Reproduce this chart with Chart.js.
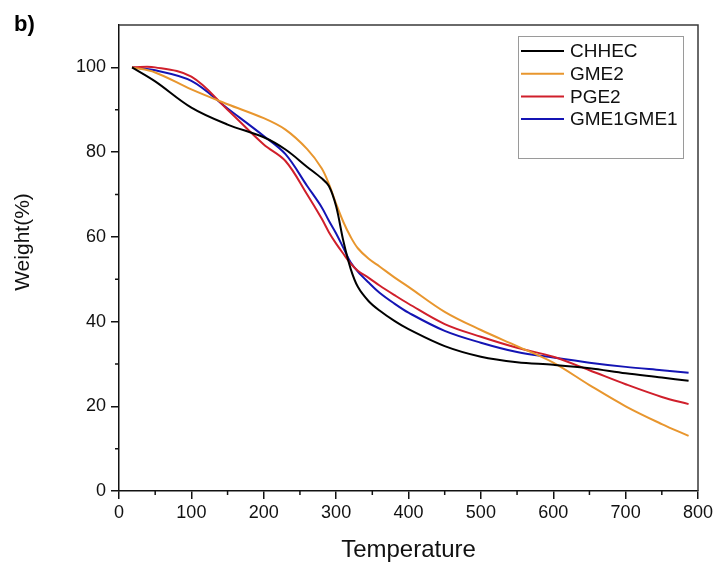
<!DOCTYPE html>
<html>
<head>
<meta charset="utf-8">
<script src="https://cdn.jsdelivr.net/npm/chart.js@4"></script>
<style>
  html, body { margin: 0; padding: 0; background: #fff; }
  #wrap { width: 718px; height: 567px; }
</style>
</head>
<body>
<div id="wrap"><canvas id="tga-chart"></canvas></div>
<script>
// Temperature points
const temperature = [18, 50, 100, 150, 200, 230, 260, 280, 290, 300, 310, 320, 330, 345, 360, 380, 400, 450, 500, 550, 600, 650, 700, 750, 787];

// Weight (%) for each sample
const chhec    = [100, 96.7, 90.5, 86.5, 83.5, 80.6, 76.5, 73.8, 72.0, 67.2, 59.0, 52.5, 48.2, 44.8, 42.6, 40.2, 38.2, 34.2, 31.7, 30.4, 29.8, 29.0, 27.8, 26.8, 26.0];
const gme2     = [100, 98.8, 94.8, 91.3, 88.0, 85.3, 80.7, 76.2, 72.5, 67.8, 63.5, 60.0, 57.3, 54.8, 53.0, 50.5, 48.2, 42.3, 38.0, 34.2, 30.3, 25.0, 20.0, 15.8, 13.0];
const pge2     = [100, 100, 97.8, 90.0, 81.8, 77.9, 70.0, 64.3, 61.1, 58.4, 56.0, 53.7, 52.0, 50.3, 48.5, 46.3, 44.2, 39.4, 36.4, 33.8, 31.7, 28.5, 25.2, 22.2, 20.5];
const gme1gme1 = [100, 99.3, 96.8, 90.3, 83.8, 79.5, 72.0, 67.0, 63.8, 60.8, 57.4, 54.0, 51.8, 49.2, 46.8, 44.3, 42.1, 37.8, 35.0, 32.8, 31.5, 30.3, 29.3, 28.5, 27.9];

const seriesNames = ['CHHEC', 'GME2', 'PGE2', 'GME1GME1'];
const seriesColors = ['#000000', '#e8962e', '#d01f2b', '#1414b4'];

const xTicks = [0, 100, 200, 300, 400, 500, 600, 700, 800];
const yTicks = [0, 20, 40, 60, 80, 100];

const FONT = '"Liberation Sans", Arial, sans-serif';

function toPoints(values) {
    return temperature.map((t, i) => ({ x: t, y: values[i] }));
}

// minor ticks, frame, legend box, y title and panel label
const decorPlugin = {
    id: 'decor',
    afterDraw(chart) {
        const c = chart.ctx;
        const a = chart.chartArea;
        const xs = chart.scales.x;
        const ys = chart.scales.y;

        c.save();
        // top and right frame
        c.strokeStyle = '#3a3a3a';
        c.lineWidth = 1.5;
        c.beginPath();
        c.moveTo(a.left, a.top);
        c.lineTo(a.right, a.top);
        c.lineTo(a.right, a.bottom);
        c.stroke();

        // minor ticks
        c.strokeStyle = '#111';
        c.lineWidth = 1.5;
        c.beginPath();
        for (let v = 50; v < 800; v += 100) {
            const px = xs.getPixelForValue(v);
            c.moveTo(px, a.bottom);
            c.lineTo(px, a.bottom + 4);
        }
        for (let v = 10; v < 110; v += 20) {
            const py = ys.getPixelForValue(v);
            c.moveTo(a.left, py);
            c.lineTo(a.left - 4, py);
        }
        c.stroke();

        // legend
        const lx = 518, ly = 36, lw = 165, lh = 122;
        c.strokeStyle = '#9a9a9a';
        c.lineWidth = 1;
        c.strokeRect(lx + 0.5, ly + 0.5, lw, lh);
        c.font = '19px ' + FONT;
        c.textBaseline = 'middle';
        chart.data.datasets.forEach((ds, i) => {
            const y = ly + 15 + i * 22.7;
            c.strokeStyle = ds.borderColor;
            c.lineWidth = 2;
            c.beginPath();
            c.moveTo(lx + 3, y);
            c.lineTo(lx + 46, y);
            c.stroke();
            c.fillStyle = '#111';
            c.fillText(ds.label, lx + 52, y + 1);
        });

        // y axis title
        c.save();
        c.translate(23, 242);
        c.rotate(-Math.PI / 2);
        c.fillStyle = '#111';
        c.font = '21px ' + FONT;
        c.textAlign = 'center';
        c.textBaseline = 'middle';
        c.fillText('Weight(%)', 0, 0);
        c.restore();

        // panel label
        c.fillStyle = '#000';
        c.font = 'bold 22px ' + FONT;
        c.textBaseline = 'alphabetic';
        c.fillText('b)', 14, 31);
        c.restore();
    }
};

const ctx = document.getElementById('tga-chart').getContext('2d');
new Chart(ctx, {
    type: 'line',
    data: {
        datasets: seriesNames.map((name, i) => ({
            label: name,
            data: toPoints([chhec, gme2, pge2, gme1gme1][i]),
            borderColor: seriesColors[i],
            borderWidth: 2,
            pointRadius: 0,
            fill: false,
            tension: 0.35
        }))
    },
    options: {
        responsive: true,
        maintainAspectRatio: false,
        animation: false,
        layout: { padding: { top: 25, right: 20, left: 0, bottom: 0 } },
        plugins: {
            legend: { display: false },
            tooltip: { enabled: false }
        },
        scales: {
            x: {
                type: 'linear',
                min: 0,
                max: 800,
                afterBuildTicks: s => { s.ticks = xTicks.map(v => ({ value: v })); },
                afterFit: s => { s.height = 76; },
                grid: { drawOnChartArea: false, drawTicks: true, tickLength: 8, color: '#111', lineWidth: 1.5 },
                border: { display: true, color: '#111', width: 1.5 },
                ticks: { color: '#111', font: { family: FONT, size: 18 }, padding: 3, maxRotation: 0 },
                title: { display: true, text: 'Temperature', color: '#111', font: { family: FONT, size: 24 }, padding: { top: 0, bottom: 2 } }
            },
            y: {
                min: 0,
                max: 110,
                afterBuildTicks: s => { s.ticks = yTicks.map(v => ({ value: v })); },
                afterFit: s => { s.width = 119; },
                grid: { drawOnChartArea: false, drawTicks: true, tickLength: 8, color: '#111', lineWidth: 1.5 },
                border: { display: true, color: '#111', width: 1.5 },
                ticks: { color: '#111', font: { family: FONT, size: 18 }, padding: 5 }
            }
        }
    },
    plugins: [decorPlugin]
});
</script>
</body>
</html>
